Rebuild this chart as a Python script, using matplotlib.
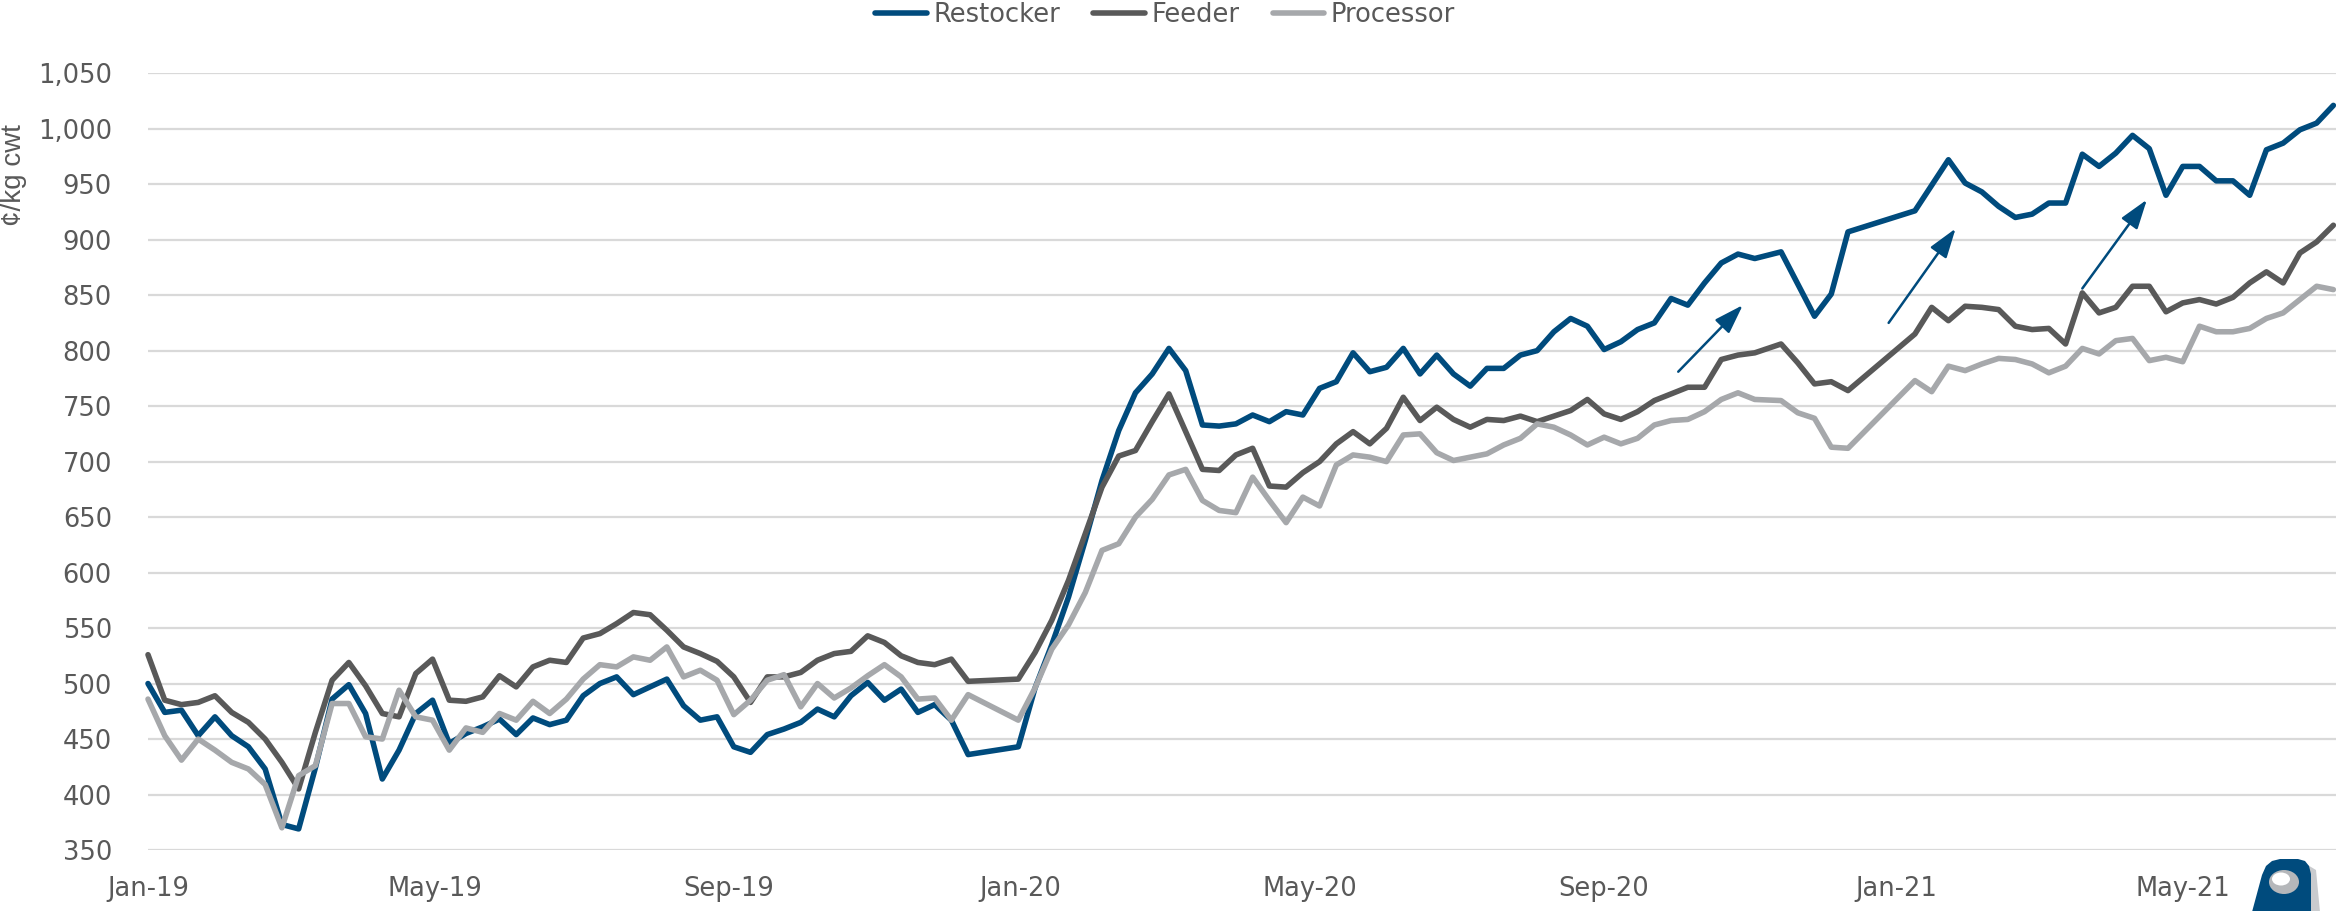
import matplotlib
matplotlib.use('Agg')
import matplotlib.pyplot as plt
import matplotlib.dates as mdates
import matplotlib.ticker as mticker
import pandas as pd
from matplotlib.patches import Polygon, Ellipse

# ---------------- data ----------------
series_names = ['Restocker', 'Feeder', 'Processor']

# weekly sale dates, with Christmas breaks
dates = (list(pd.date_range('2019-01-01', periods=50, freq='7D')) +
         list(pd.date_range('2019-12-31', periods=45, freq='7D')) +
         list(pd.date_range('2020-11-14', periods=5, freq='7D')) +
         list(pd.date_range('2021-01-09', periods=26, freq='7D')))

restocker = [500, 474, 476, 453, 470, 453, 443, 423, 373, 369,
             424, 486, 499, 473, 414, 440, 473, 485, 446, 455,
             461, 468, 454, 469, 463, 467, 489, 500, 506, 490,
             497, 504, 480, 467, 470, 443, 438, 454, 459, 465,
             477, 470, 489, 501, 485, 495, 474, 481, 467, 436,
             443, 496, 535, 578, 629, 683, 728, 762, 779, 802,
             782, 733, 732, 734, 742, 736, 745, 742, 766, 772,
             798, 781, 785, 802, 779, 796, 779, 768, 784, 784,
             796, 800, 817, 829, 822, 801, 808, 819, 825, 847,
             841, 861, 879, 887, 883,
             889, 860, 831, 851, 907,
             926, 949, 972, 951, 943, 930, 920, 923, 933, 933,
             977, 966, 978, 994, 982, 940, 966, 966, 953, 953,
             940, 981, 987, 999, 1005, 1021]

feeder = [526, 485, 481, 483, 489, 474, 465, 450, 429, 405,
          456, 503, 519, 498, 473, 470, 509, 522, 485, 484,
          488, 507, 497, 515, 521, 519, 541, 545, 554, 564,
          562, 548, 533, 527, 520, 506, 483, 506, 506, 510,
          521, 527, 529, 543, 537, 525, 519, 517, 522, 502,
          504, 528, 557, 593, 635, 677, 705, 710, 736, 761,
          727, 693, 692, 706, 712, 678, 677, 690, 700, 716,
          727, 716, 730, 758, 737, 749, 738, 731, 738, 737,
          741, 736, 741, 746, 756, 743, 738, 745, 755, 761,
          767, 767, 792, 796, 798,
          806, 789, 770, 772, 764,
          815, 839, 827, 840, 839, 837, 822, 819, 820, 806,
          852, 834, 839, 858, 858, 835, 843, 846, 842, 848,
          861, 871, 861, 888, 898, 913]

processor = [486, 453, 431, 450, 440, 429, 423, 409, 370, 417,
             426, 482, 482, 452, 450, 494, 470, 467, 440, 460,
             456, 473, 467, 484, 473, 486, 504, 517, 515, 524,
             521, 533, 506, 512, 503, 472, 485, 503, 508, 479,
             500, 487, 496, 507, 517, 506, 486, 487, 467, 490,
             467, 496, 531, 553, 582, 620, 626, 650, 666, 688,
             693, 665, 656, 654, 686, 665, 645, 668, 660, 697,
             706, 704, 700, 724, 725, 708, 701, 704, 707, 715,
             721, 734, 731, 724, 715, 722, 716, 721, 733, 737,
             738, 745, 756, 762, 756,
             755, 744, 739, 713, 712,
             773, 763, 786, 782, 788, 793, 792, 788, 780, 786,
             802, 797, 809, 811, 791, 794, 790, 822, 817, 817,
             820, 829, 834, 846, 858, 855]

# trend arrows: (tail date, tail value, head date, head value)
arrow_tail_dates = ['2020-10-02', '2020-12-29', '2021-03-20']
arrow_tail_vals = [781, 825, 856]
arrow_head_dates = ['2020-10-29', '2021-01-26', '2021-04-16']
arrow_head_vals = [841, 910, 936]

y_ticks = list(range(350, 1051, 50))
y_label = '¢/kg cwt'

colors = ['#004B7D', '#595959', '#A6A8AB']
grid_color = '#D9D9D9'
text_color = '#595959'

# ---------------- figure ----------------
W, H = 2336, 911
fig = plt.figure(figsize=(W / 100, H / 100), dpi=100)
plt.rcParams['font.family'] = ['DejaVu Sans']

ax = fig.add_axes([148 / W, 1 - 850 / H, (W - 148) / W, (850 - 73.2) / H])

for name, vals, c in zip(series_names, [restocker, feeder, processor], colors):
    ax.plot(dates, vals, color=c, lw=4.0, label=name, solid_joinstyle='round',
            solid_capstyle='round', clip_on=False, zorder=3)

for td, tv, hd, hv in zip(arrow_tail_dates, arrow_tail_vals, arrow_head_dates, arrow_head_vals):
    ax.annotate('', xy=(pd.Timestamp(hd), hv), xytext=(pd.Timestamp(td), tv),
                arrowprops=dict(arrowstyle='-|>,head_length=0.6,head_width=0.2',
                                color=colors[0], lw=1.8, mutation_scale=30,
                                shrinkA=0, shrinkB=0), zorder=4)

x0 = mdates.date2num(pd.Timestamp('2019-01-01'))
ax.set_xlim(x0, x0 + 915.1)
ax.set_ylim(350, 1050)
ax.set_yticks(y_ticks)
ax.yaxis.set_major_formatter(mticker.FuncFormatter(lambda v, p: f'{v:,.0f}'))
ax.xaxis.set_major_locator(mdates.MonthLocator(bymonth=[1, 5, 9]))
ax.xaxis.set_major_formatter(mdates.DateFormatter('%b-%y'))

ax.grid(axis='y', color=grid_color, lw=1.6, zorder=0)
ax.grid(axis='x', visible=False)
for s in ax.spines.values():
    s.set_visible(False)
ax.tick_params(axis='both', length=0, labelsize=18.5, labelcolor=text_color)
ax.tick_params(axis='y', pad=26)
ax.tick_params(axis='x', pad=19)

fig.text(14 / W, 1 - 175 / H, y_label, rotation=90, ha='center', va='center',
         fontsize=20, color=text_color, family=['Liberation Sans Narrow', 'Liberation Sans', 'DejaVu Sans'])

leg = fig.legend(loc='upper center', bbox_to_anchor=(1165 / W, 1.0 - 2 / H), ncol=3, frameon=False,
                 fontsize=18.5, handlelength=2.0, handletextpad=0.25, columnspacing=1.3,
                 borderaxespad=0, borderpad=0)
for t in leg.get_texts():
    t.set_color(text_color)

# ---------------- logo (bottom right, partially cut) ----------------
def px(x, y):
    return (x / W, 1 - y / H)

shadow = Polygon([px(2306, 864), px(2316, 870), px(2320, 912), px(2310, 912)],
                 closed=True, transform=fig.transFigure, facecolor='#C9CBCE',
                 edgecolor='none', zorder=5)
fig.add_artist(shadow)
blue_pts = [(2252, 912), (2262, 875), (2266, 866), (2272, 861), (2280, 859), (2298, 859),
            (2305, 861), (2309, 866), (2311, 874), (2311, 912)]
logo = Polygon([px(x, y) for x, y in blue_pts], closed=True, transform=fig.transFigure,
               facecolor=colors[0], edgecolor='none', zorder=6)
fig.add_artist(logo)
ring = Ellipse(px(2284, 882), 30 / W, 24 / H, transform=fig.transFigure,
               facecolor='#B5B7BA', edgecolor='none', zorder=7)
fig.add_artist(ring)
inner = Ellipse(px(2281, 879), 18 / W, 13 / H, transform=fig.transFigure,
                facecolor='white', edgecolor='none', zorder=8)
fig.add_artist(inner)

fig.savefig('out.png', dpi=100)
